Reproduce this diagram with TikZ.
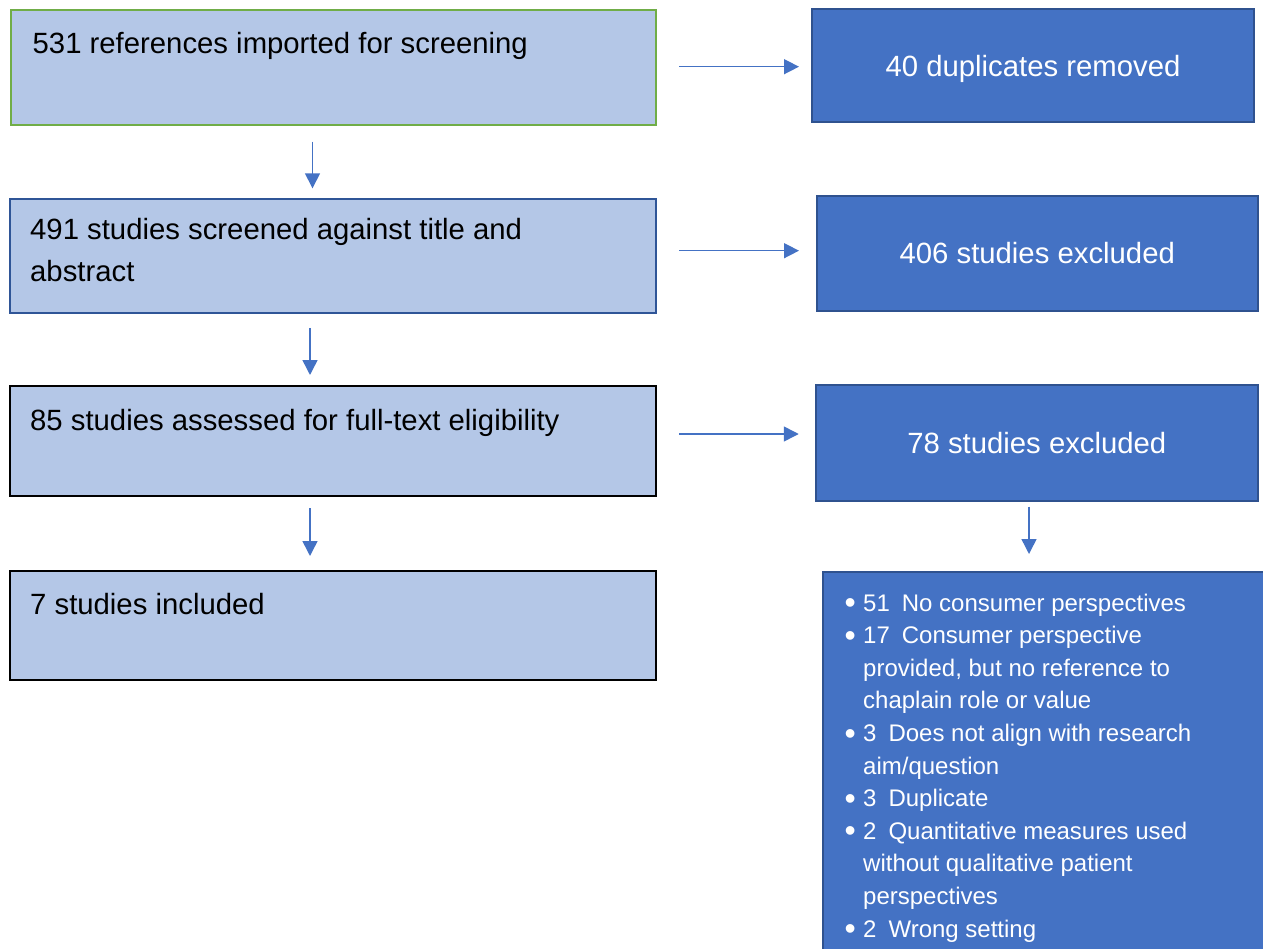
\documentclass[tikz,border=0pt]{standalone}
\usepackage{fontspec}
\setmainfont{Liberation Sans}
\usetikzlibrary{arrows.meta,calc}
\definecolor{lightfill}{HTML}{B4C7E7}
\definecolor{darkfill}{HTML}{4472C4}
\definecolor{darkline}{HTML}{2F528F}
\definecolor{blueline}{HTML}{2F5597}
\definecolor{greenline}{HTML}{70AD47}
\definecolor{arrowblue}{HTML}{4472C4}
\newcommand\bigtxt{\fontsize{29.3}{42.4}\selectfont}
\newcommand\listtxt{\fontsize{24}{32.6}\selectfont}
\newcommand\bul{\makebox[18pt][l]{\hspace*{-0.5pt}\raisebox{-2.6pt}{\fontsize{32}{32}\selectfont •}}}
\begin{document}
\begin{tikzpicture}[x=1pt,y=-1pt,
  box/.style={rectangle, inner sep=0pt, outer sep=0pt, line width=2pt},
  lbox/.style={box, fill=lightfill, draw=black},
  dbox/.style={box, fill=darkfill, draw=darkline, text=white, font=\bigtxt, text height=21pt, text depth=0pt},
  ltext/.style={anchor=base west, inner sep=0pt, font=\bigtxt, text=black},
  arr/.style={draw=arrowblue, line width=1.5pt, -{Triangle[length=15pt,width=15pt]}}
]
\useasboundingbox (0,0) rectangle (1263,949);

% left column boxes
\node[lbox, draw=greenline, minimum width=645pt, minimum height=115pt] (A) at (333.5,67.5) {};
\node[lbox, draw=blueline, minimum width=646pt, minimum height=114pt] (C) at (333,256) {};
\node[lbox, minimum width=646pt, minimum height=110pt] (E) at (333,441) {};
\node[lbox, minimum width=646pt, minimum height=109pt] (G) at (333,625.5) {};

\node[ltext] (At) at (32.5,53.3) {531 references imported for screening};
\node[ltext] (Ct) at (30,239.3) {\begin{tabular}[t]{@{}l@{}}491 studies screened against title and\\abstract\end{tabular}};
\node[ltext] (Et) at (30,430) {85 studies assessed for full-text eligibility};
\node[ltext] (Gt) at (30,614) {7 studies included};

% right column boxes
\node[dbox, minimum width=442pt, minimum height=113pt] (B) at (1033,66) {40 duplicates removed};
\node[dbox, minimum width=441.5pt, minimum height=115pt] (D) at (1037.25,253.5) {406 studies excluded};
\node[dbox, minimum width=441.7pt, minimum height=115.7pt] (F) at (1036.85,442.85) {78 studies excluded};
\node[box, fill=darkfill, draw=darkline, line width=1.5pt, minimum width=452pt, minimum height=400pt, anchor=north west] (H) at (823,572) {};

\node[anchor=base west, inner sep=0pt, font=\listtxt, text=white] (L) at (845,611) {%
\begin{tabular}[t]{@{}l@{}l@{}}
\bul & 51\hspace{12pt}No consumer perspectives\\
\bul & 17\hspace{12pt}Consumer perspective\\
 & provided, but no reference to\\
 & chaplain role or value\\
\bul & 3\hspace{12pt}Does not align with research\\
 & aim/question\\
\bul & 3\hspace{12pt}Duplicate\\
\bul & 2\hspace{12pt}Quantitative measures used\\
 & without qualitative patient\\
 & perspectives\\
\bul & 2\hspace{12pt}Wrong setting
\end{tabular}};

% horizontal arrows
\draw[arr] ($(A.east)+(23,-0.8)$) -- ($(B.west)+(-13,0.7)$);
\draw[arr] ($(C.east)+(23,-5.3)$) -- ($(D.west)+(-17.5,-2.8)$);
\draw[arr] ($(E.east)+(23,-7)$) -- ($(F.west)+(-17.25,-8.85)$);

% vertical arrows
\draw[arr] ($(A.south)+(-21,16.7)$) -- ($(C.north)+(-20.5,-10.7)$);
\draw[arr] ($(C.south)+(-23,15)$) -- ($(E.north)+(-23,-11)$);
\draw[arr] ($(E.south)+(-23,12)$) -- ($(G.north)+(-23,-15)$);
\draw[arr] ($(F.south)+(-7.85,6)$) -- ($(H.north)+(-20,-18)$);
\end{tikzpicture}
\end{document}
